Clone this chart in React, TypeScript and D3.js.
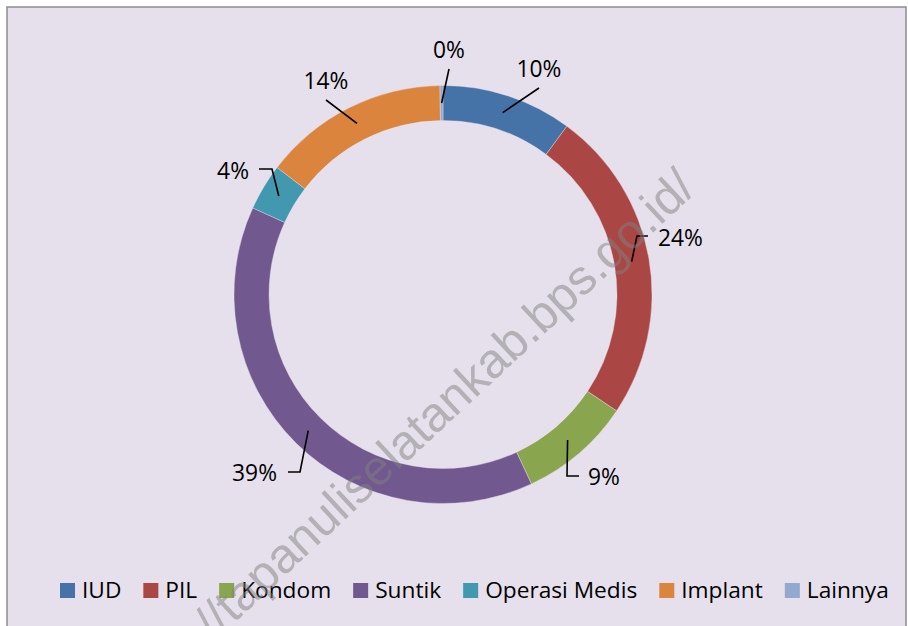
import React, { useMemo } from "react";
import * as d3 from "d3";

const categories = ["IUD", "PIL", "Kondom", "Suntik", "Operasi Medis", "Implant", "Lainnya"];
const values = [10.1, 24.3, 8.65, 38.75, 3.6, 14.37, 0.23];
const colors = ["#4572A7", "#AA4643", "#89A54E", "#71588F", "#4198AF", "#DB843D", "#93A9CF"];

// label layout: text position, anchor, leader polyline start points (ending at slice centroid)
const labelLayout: { x: number; y: number; anchor: string; leader: [number, number][] }[] = [
  { x: 539, y: 77, anchor: "middle", leader: [[539, 88]] },
  { x: 658, y: 246, anchor: "start", leader: [[648, 236], [637, 236]] },
  { x: 588, y: 485, anchor: "start", leader: [[579, 476], [567, 476]] },
  { x: 277, y: 481, anchor: "end", leader: [[288, 472], [300, 472]] },
  { x: 249, y: 179, anchor: "end", leader: [[259, 169], [272, 169]] },
  { x: 326, y: 89, anchor: "middle", leader: [[326, 100]] },
  { x: 449, y: 58, anchor: "middle", leader: [[449, 69]] },
];

const W = 908;
const H = 626;
const CX = 443;
const CY = 294.5;
const R_OUT = 209;
const R_IN = 174;
const FONT = "'Open Sans', 'Noto Sans', sans-serif";
const LEGEND_FS = 22.7;
const LABEL_FS = 22.8;

function measure(text: string, font: string): number {
  const c = document.createElement("canvas");
  const ctx = c.getContext("2d");
  if (!ctx) return text.length * 11;
  ctx.font = font;
  return ctx.measureText(text).width;
}

export default function App() {
  const total = d3.sum(values);
  const pie = d3.pie<number>().sort(null).value((d) => d).startAngle(0).endAngle(2 * Math.PI);
  const arcs = pie(values);
  const arc = d3.arc<d3.PieArcDatum<number>>().innerRadius(R_IN).outerRadius(R_OUT);
  const mid = d3.arc<d3.PieArcDatum<number>>().innerRadius((R_IN + R_OUT) / 2).outerRadius((R_IN + R_OUT) / 2);

  const legend = useMemo(() => {
    let x = 60;
    return categories.map((c, i) => {
      const w = measure(c, `${LEGEND_FS}px ${FONT}`);
      const item = { x, w, c, color: colors[i] };
      x += 15 + 7 + w + 22;
      return item;
    });
  }, []);

  const line = d3.line();

  return (
    <svg width={W} height={H} style={{ position: "absolute", left: 0, top: 0 }}>
      <rect x={0} y={0} width={W} height={H} fill="#ffffff" />
      <rect x={7} y={7} width={899} height={660} fill="#E6E0EC" stroke="#8C8C8C" strokeWidth={1.5} />
      <g transform={`translate(${CX},${CY})`}>
        {arcs.map((a, i) => (
          <path key={i} d={arc(a) || ""} fill={colors[i]} stroke="#E6E0EC" strokeWidth={0.4} />
        ))}
      </g>
      {arcs.map((a, i) => {
        const [mx, my] = mid.centroid(a);
        const L = labelLayout[i];
        const pts: [number, number][] = [...L.leader, [CX + mx, CY + my]];
        return (
          <g key={i}>
            <path d={line(pts) || ""} fill="none" stroke="#000" strokeWidth={1.6} />
            <text x={L.x} y={L.y} textAnchor={L.anchor} fontFamily={FONT} fontSize={LABEL_FS} fill="#000">
              {`${Math.round((values[i] / total) * 100)}%`}
            </text>
          </g>
        );
      })}
      {legend.map((l, i) => (
        <g key={i}>
          <rect x={l.x} y={583} width={15} height={15} fill={l.color} />
          <text x={l.x + 22} y={598} fontFamily={FONT} fontSize={LEGEND_FS} fill="#000">
            {l.c}
          </text>
        </g>
      ))}
      <text
        transform={`translate(126,724) rotate(-43)`}
        fontFamily="'Liberation Sans', Arial, sans-serif"
        fontSize={49}
        fill="#808080"
        fillOpacity={0.5}
      >
        https://tapanuliselatankab.bps.go.id/
      </text>
    </svg>
  );
}
